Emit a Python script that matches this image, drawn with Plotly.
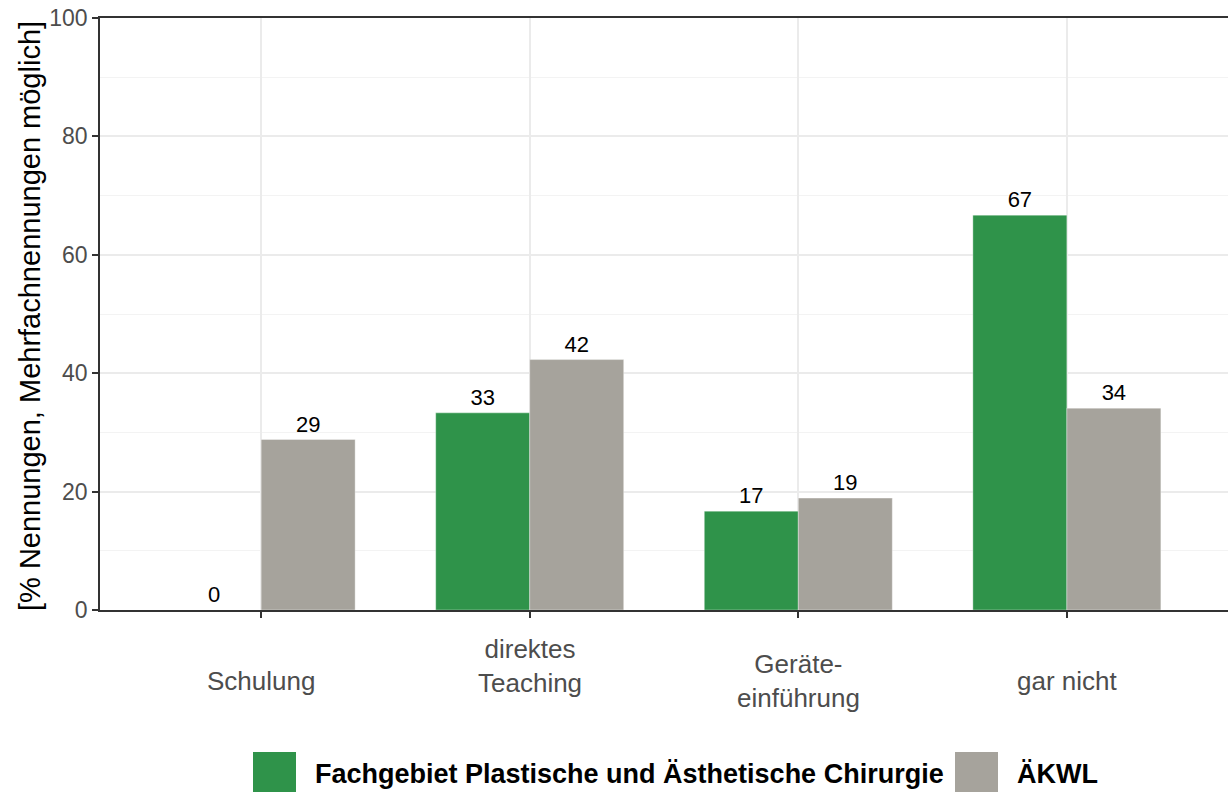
import plotly.graph_objects as go

categories = ["Schulung", "direktes Teaching", "Geräteeinführung", "gar nicht"]
tick_labels = ["Schulung", "direktes<br>Teaching", "Geräte-<br>einführung", "gar nicht"]
series_names = ["Fachgebiet Plastische und Ästhetische Chirurgie", "ÄKWL"]
values_fach = [0, 33.3, 16.7, 66.7]
values_aekwl = [28.8, 42.3, 18.9, 34.1]
colors = ["#2F934A", "#A6A39C"]
y_title = "[% Nennungen, Mehrfachnennungen möglich]"

FONT = "Liberation Sans, Arial, sans-serif"
W, H = 1228, 792
PL, PR, PT, PB = 100, 1228, 18, 610
PW, PH = PR - PL, PB - PT


def px_x(p):
    return (p - PL) / PW


def px_y(p):
    return (PB - p) / PH


fig = go.Figure()
for name, vals, col in zip(series_names, [values_fach, values_aekwl], colors):
    fig.add_trace(go.Bar(
        x=categories, y=vals, name=name,
        marker=dict(color=col, line=dict(width=0.6, color="rgba(255,255,255,0.6)")),
        texttemplate="%{y:.0f}", textposition="outside",
        textfont=dict(family=FONT, size=22, color="#000000"),
        cliponaxis=False, showlegend=False,
    ))

fig.update_layout(
    width=W, height=H, autosize=False,
    margin=dict(l=PL, r=W - PR, t=PT, b=H - PB, pad=0),
    paper_bgcolor="white", plot_bgcolor="white",
    barmode="group", bargap=0.3, bargroupgap=0,
    font=dict(family=FONT),
)

fig.update_xaxes(
    type="category", range=[-0.6, 3.6],
    showgrid=True, gridcolor="#EBEBEB", gridwidth=2,
    showline=True, linecolor="#333333", linewidth=1.5, mirror=True,
    ticks="outside", ticklen=6, tickcolor="#333333", tickwidth=1.5,
    showticklabels=False, zeroline=False,
)
fig.update_yaxes(
    range=[0, 100], tickvals=[0, 20, 40, 60, 80, 100],
    showgrid=True, gridcolor="#EBEBEB", gridwidth=2,
    minor=dict(tickvals=[10, 30, 50, 70, 90], showgrid=True, gridcolor="#F3F3F3", gridwidth=1),
    showline=True, linecolor="#333333", linewidth=1.5,
    ticks="outside", ticklen=6, tickcolor="#333333", tickwidth=1.5,
    tickfont=dict(family=FONT, size=23, color="#4D4D4D"),
    zeroline=False,
)

# x tick labels (category names)
label_centers = [681, 666, 681, 681]
for cat, txt, cy in zip(categories, tick_labels, label_centers):
    fig.add_annotation(
        x=cat, xref="x", y=px_y(cy), yref="paper", text=txt, showarrow=False,
        xanchor="center", yanchor="middle",
        font=dict(family=FONT, size=26, color="#4D4D4D"),
    )

# y axis title
fig.add_annotation(
    x=px_x(30), xref="paper", y=px_y(316), yref="paper", text=y_title,
    textangle=-90, showarrow=False, xanchor="center", yanchor="middle",
    font=dict(family=FONT, size=29, color="#000000"),
)

# legend (drawn manually)
legend_items = [(253, 296, 313), (955, 998, 1015)]
for (x0, x1, tx), name, col in zip(legend_items, series_names, colors):
    fig.add_shape(type="rect", xref="paper", yref="paper",
                  x0=px_x(x0), x1=px_x(x1), y0=px_y(752), y1=px_y(795),
                  fillcolor=col, line=dict(width=0))
    fig.add_annotation(
        x=px_x(tx), xref="paper", y=px_y(774), yref="paper", text="<b>" + name + "</b>",
        showarrow=False, xanchor="left", yanchor="middle",
        font=dict(family=FONT, size=27, color="#000000"),
    )

fig.write_html(
    "out.html",
    config={"displayModeBar": False},
    post_script="document.body.style.margin='0';document.body.style.overflow='hidden';",
)
